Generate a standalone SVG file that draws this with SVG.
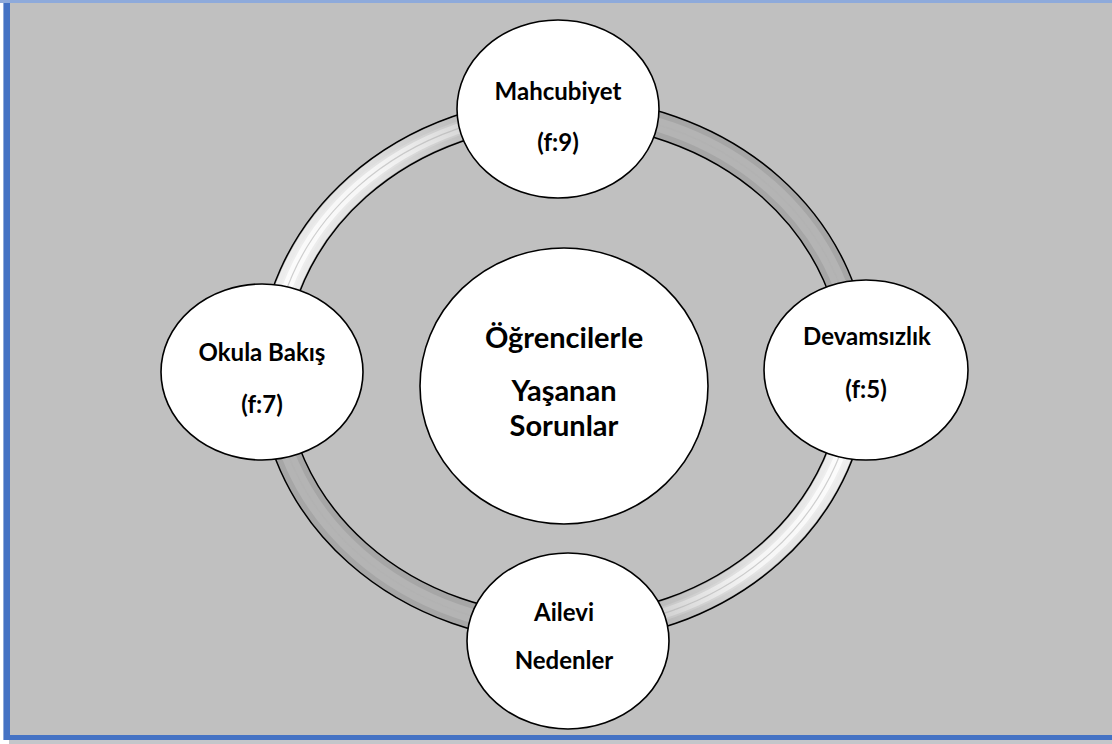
<svg xmlns="http://www.w3.org/2000/svg" width="1112" height="744" viewBox="0 0 1112 744">
<defs>
<style>
.node ellipse{fill:#fff;stroke:#000;stroke-width:1.6}
.t{font-family:Lato,"Open Sans","Liberation Sans",sans-serif;font-weight:bold;fill:#000;text-anchor:middle}
.s{font-size:24px}
.c{font-size:29px}
.band{fill:none}
</style>
<linearGradient id="gTL" gradientUnits="userSpaceOnUse" x1="280" y1="360" x2="540" y2="112">
<stop offset="0" stop-color="#fff" stop-opacity="0.85"/>
<stop offset="0.55" stop-color="#fff" stop-opacity="0.65"/>
<stop offset="1" stop-color="#fff" stop-opacity="0"/>
</linearGradient>
<linearGradient id="gBR" gradientUnits="userSpaceOnUse" x1="850" y1="390" x2="600" y2="625">
<stop offset="0" stop-color="#fff" stop-opacity="0.85"/>
<stop offset="0.55" stop-color="#fff" stop-opacity="0.65"/>
<stop offset="1" stop-color="#fff" stop-opacity="0"/>
</linearGradient>
</defs>
<rect x="0" y="0" width="1112" height="744" fill="#fff"/>
<rect x="9" y="740" width="1103" height="4" fill="#c4c6ca"/>
<rect x="0" y="0" width="1112" height="3" fill="#8eaadb"/>
<rect x="10" y="3" width="1102" height="732" fill="#c0c0c0"/>
<rect x="3" y="3" width="1.3" height="737" fill="#8eaadb"/>
<rect x="4" y="3" width="6" height="737" fill="#4472c4"/>
<rect x="4" y="735" width="1108" height="5" fill="#4472c4"/>
<g id="connectors">
<ellipse class="band" cx="564" cy="370" rx="292" ry="259" stroke="#000" stroke-width="28"/>
<ellipse class="band" cx="564" cy="370" rx="292" ry="259" stroke="#a6a6a6" stroke-width="25"/>
<ellipse class="band" cx="564" cy="370" rx="292" ry="259" stroke="#b4b4b4" stroke-width="14"/>
<path class="band" d="M272,370 A292,259 0 0,1 564,111" stroke="url(#gTL)" stroke-width="24"/>
<path class="band" d="M272,370 A292,259 0 0,1 564,111" stroke="url(#gTL)" stroke-width="10"/>
<path class="band" d="M856,370 A292,259 0 0,1 564,629" stroke="url(#gBR)" stroke-width="24"/>
<path class="band" d="M856,370 A292,259 0 0,1 564,629" stroke="url(#gBR)" stroke-width="10"/>
<ellipse class="band" cx="564" cy="370" rx="292" ry="259" stroke="#b0b0b0" stroke-opacity="0.6" stroke-width="1.2"/>
</g>
<g id="node-center" class="node">
<ellipse cx="564" cy="386" rx="144" ry="138"/>
<text class="t c" x="564" y="348">Öğrencilerle</text>
<text class="t c" x="564" y="401">Yaşanan</text>
<text class="t c" x="564" y="436">Sorunlar</text>
</g>
<g id="node-mahcubiyet" class="node">
<ellipse cx="558" cy="109" rx="101" ry="89"/>
<text class="t s" x="558" y="100">Mahcubiyet</text>
<text class="t s" x="558" y="151">(f:9)</text>
</g>
<g id="node-okula" class="node">
<ellipse cx="262" cy="372" rx="101" ry="88"/>
<text class="t s" x="262" y="361">Okula Bakış</text>
<text class="t s" x="262" y="413">(f:7)</text>
</g>
<g id="node-devamsizlik" class="node">
<ellipse cx="866" cy="370" rx="102" ry="90"/>
<text class="t s" x="867" y="345">Devamsızlık</text>
<text class="t s" x="866" y="398">(f:5)</text>
</g>
<g id="node-ailevi" class="node">
<ellipse cx="568" cy="641" rx="101" ry="88"/>
<text class="t s" x="564" y="621">Ailevi</text>
<text class="t s" x="564" y="669">Nedenler</text>
</g>
</svg>
